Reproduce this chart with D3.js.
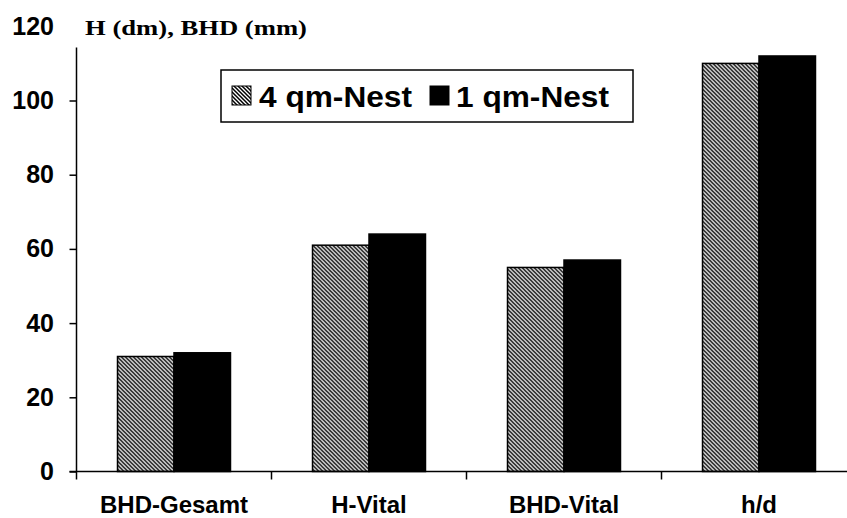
<!DOCTYPE html>
<html>
<head>
<meta charset="utf-8">
<script src="https://cdn.jsdelivr.net/npm/d3@7"></script>
<style>
  html, body { margin: 0; padding: 0; background: #fff; }
  svg { display: block; }
</style>
</head>
<body>
<svg id="chart" width="847" height="518"></svg>
<script>
// Categories, series and values
const categories = ["BHD-Gesamt", "H-Vital", "BHD-Vital", "h/d"];
const seriesNames = ["4 qm-Nest", "1 qm-Nest"];
const nest4 = [31, 61, 55, 110];
const nest1 = [32, 64, 57, 112];
const yTicks = [0, 20, 40, 60, 80, 100, 120];
const yTitle = "H (dm), BHD (mm)";

const svg = d3.select("#chart");
const W = 847, H = 518;

// Plot frame
const x0 = 76.5, yBase = 471.5, yTopVal = 26.3;
const bandW = 195;

const y = d3.scaleLinear().domain([0, 120]).range([yBase, yTopVal]);
const x = d3.scaleBand().domain(categories)
  .range([x0, x0 + bandW * categories.length]).paddingInner(0).paddingOuter(0);
const xs = d3.scaleBand().domain(seriesNames)
  .range([0, x.bandwidth()]).paddingInner(0).paddingOuter(0.726);

// Diagonal hatch fill
const defs = svg.append("defs");
const pat = defs.append("pattern")
  .attr("id", "hatch").attr("patternUnits", "userSpaceOnUse")
  .attr("width", 4).attr("height", 4);
pat.append("rect").attr("width", 4).attr("height", 4).attr("fill", "#fff");
pat.append("path")
  .attr("d", "M-1,-1L5,5M-1,3L1,5M3,-1L5,1")
  .attr("stroke", "#000").attr("stroke-width", 1.5);

const fills = { "4 qm-Nest": "url(#hatch)", "1 qm-Nest": "#000" };
const rows = categories.map((c, i) => ({ cat: c, vals: [
  { s: seriesNames[0], v: nest4[i] },
  { s: seriesNames[1], v: nest1[i] }
]}));

// Bars
const g = svg.append("g");
g.selectAll("g.cat").data(rows).join("g")
  .attr("class", "cat")
  .attr("transform", d => `translate(${x(d.cat)},0)`)
  .selectAll("rect").data(d => d.vals).join("rect")
  .attr("x", d => xs(d.s))
  .attr("width", xs.bandwidth())
  .attr("y", d => y(d.v))
  .attr("height", d => y(0) - y(d.v))
  .attr("fill", d => fills[d.s])
  .attr("stroke", "#000").attr("stroke-width", 1.5);

// Y axis
const yAxis = d3.axisLeft(y).tickValues(yTicks).tickSize(7).tickPadding(15.5).tickFormat(d3.format("d"));
const ya = svg.append("g").attr("transform", `translate(${x0},0)`).call(yAxis);
ya.select(".domain").remove();
ya.selectAll(".tick line").attr("stroke", "#000").attr("stroke-width", 1.5)
  .filter(d => d === 120).remove();
ya.selectAll(".tick text")
  .attr("font-family", "Liberation Sans, Arial, sans-serif")
  .attr("font-weight", "bold").attr("font-size", 25).attr("fill", "#000");
svg.append("line")
  .attr("x1", x0).attr("x2", x0)
  .attr("y1", y(0)).attr("y2", y(114.3))
  .attr("stroke", "#000").attr("stroke-width", 1.5);

// X axis
const xa = svg.append("g").attr("transform", `translate(0,${yBase})`);
xa.append("line").attr("x1", x0 - 7).attr("x2", W)
  .attr("stroke", "#000").attr("stroke-width", 1.5);
xa.selectAll("line.tk").data(categories).join("line")
  .attr("class", "tk")
  .attr("x1", d => x(d)).attr("x2", d => x(d))
  .attr("y1", 0).attr("y2", 8)
  .attr("stroke", "#000").attr("stroke-width", 1.5);
xa.selectAll("text").data(categories).join("text")
  .attr("x", d => x(d) + x.bandwidth() / 2)
  .attr("y", 41)
  .attr("text-anchor", "middle")
  .attr("font-family", "Liberation Sans, Arial, sans-serif")
  .attr("font-weight", "bold").attr("font-size", 24)
  .text(d => d);

// Axis title
svg.append("text")
  .attr("x", 85).attr("y", 35)
  .attr("font-family", "Liberation Serif, 'Times New Roman', serif")
  .attr("font-weight", "bold").attr("font-size", 22)
  .attr("textLength", 222).attr("lengthAdjust", "spacingAndGlyphs")
  .text(yTitle);

// Legend
const lg = svg.append("g");
lg.append("rect").attr("x", 221).attr("y", 70).attr("width", 412).attr("height", 52)
  .attr("fill", "#fff").attr("stroke", "#000").attr("stroke-width", 1.5);
const items = [
  { s: seriesNames[0], sx: 232, tx: 259 },
  { s: seriesNames[1], sx: 430, tx: 456 }
];
items.forEach(it => {
  lg.append("rect").attr("x", it.sx).attr("y", 86).attr("width", 19).attr("height", 19)
    .attr("fill", fills[it.s]).attr("stroke", "#000").attr("stroke-width", 1);
  lg.append("text").attr("x", it.tx).attr("y", 106.5)
    .attr("font-family", "Liberation Sans, Arial, sans-serif")
    .attr("font-weight", "bold").attr("font-size", 30)
    .attr("textLength", 153).attr("lengthAdjust", "spacingAndGlyphs")
    .text(it.s);
});
</script>
</body>
</html>
